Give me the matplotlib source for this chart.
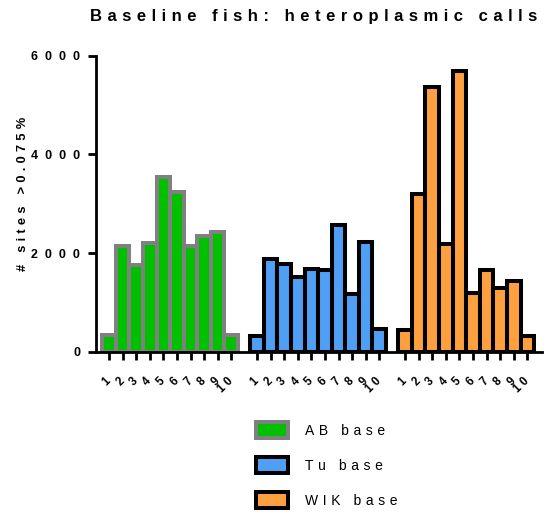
import matplotlib
matplotlib.use("Agg")
import matplotlib.pyplot as plt
import numpy as np

# ---- data ----
groups = ["AB base", "Tu base", "WIK base"]
categories = ["1", "2", "3", "4", "5", "6", "7", "8", "9", "10"]
ab_values = [350, 2150, 1770, 2200, 3540, 3230, 2150, 2350, 2420, 350]
tu_values = [320, 1880, 1780, 1510, 1680, 1670, 2580, 1180, 2220, 470]
wik_values = [440, 3190, 5360, 2180, 5690, 1200, 1670, 1300, 1440, 320]
y_ticks = [0, 2000, 4000, 6000]
title_text = "Baseline fish: heteroplasmic calls"
y_label_text = "# sites >0.075%"

fill_colors = ["#00C000", "#4F9FF5", "#FFA040"]
edge_colors = ["#808080", "#000000", "#000000"]

THIN = "\u2004"


def track(s, gap):
    """Imitate the wide letter spacing of the original export."""
    return gap.join(s)


plt.rcParams['font.family'] = ['Liberation Sans', 'DejaVu Sans']

W, H = 547, 514
fig = plt.figure(figsize=(W / 100, H / 100), dpi=100)
ax = fig.add_axes([95.7 / W, (H - 352) / H, (542 - 95.7) / W, (352 - 55.7) / H])

group_step = 10.9
series = [ab_values, tu_values, wik_values]
all_pos = []
handles = []
for g, (vals, fc, ec, name) in enumerate(zip(series, fill_colors, edge_colors, groups)):
    pos = g * group_step + np.arange(len(categories))
    bc = ax.bar(pos, vals, width=1.0, color=fc, edgecolor=ec, linewidth=2.9,
                label=track(name, THIN))
    handles.append(bc)
    all_pos.extend(pos)

ax.set_xlim(-0.98, 2 * group_step + 9 + 1.08)
ax.set_ylim(0, 6000)

for side in ("top", "right"):
    ax.spines[side].set_visible(False)
for side in ("left", "bottom"):
    ax.spines[side].set_linewidth(2.0)
    ax.spines[side].set_color("black")
    ax.spines[side].set_zorder(5)

ax.tick_params(axis="both", width=2.0, length=5.8, color="black")
ax.tick_params(axis="x", pad=14.0)
ax.tick_params(axis="y", pad=5.5)

ax.set_xticks(all_pos)
ax.set_xticklabels([track(c, " ") for c in categories] * len(groups),
                   rotation=45, ha="right", va="center", rotation_mode="anchor",
                   fontsize=8.3, fontweight="bold")
ax.set_yticks(y_ticks)
ax.set_yticklabels([track(str(v), "  ") for v in y_ticks],
                   fontsize=9, fontweight="bold")

fig.text(90 / W, 1 - 21 / H, track(title_text, THIN), ha="left", va="baseline",
         fontsize=12, fontweight="bold")
ax.set_ylabel(track(y_label_text, THIN), fontsize=9.3, fontweight="bold")
ax.yaxis.set_label_coords(-0.15, 0.533)

ax.legend(handles=handles, loc="upper left",
          bbox_to_anchor=(256 / W, 1 - 421.5 / H), bbox_transform=fig.transFigure,
          frameon=False, fontsize=10, handlelength=2.3, handleheight=1.5,
          labelspacing=1.3, handletextpad=1.2, borderpad=0, borderaxespad=0)

fig.savefig("out.png", dpi=100)
